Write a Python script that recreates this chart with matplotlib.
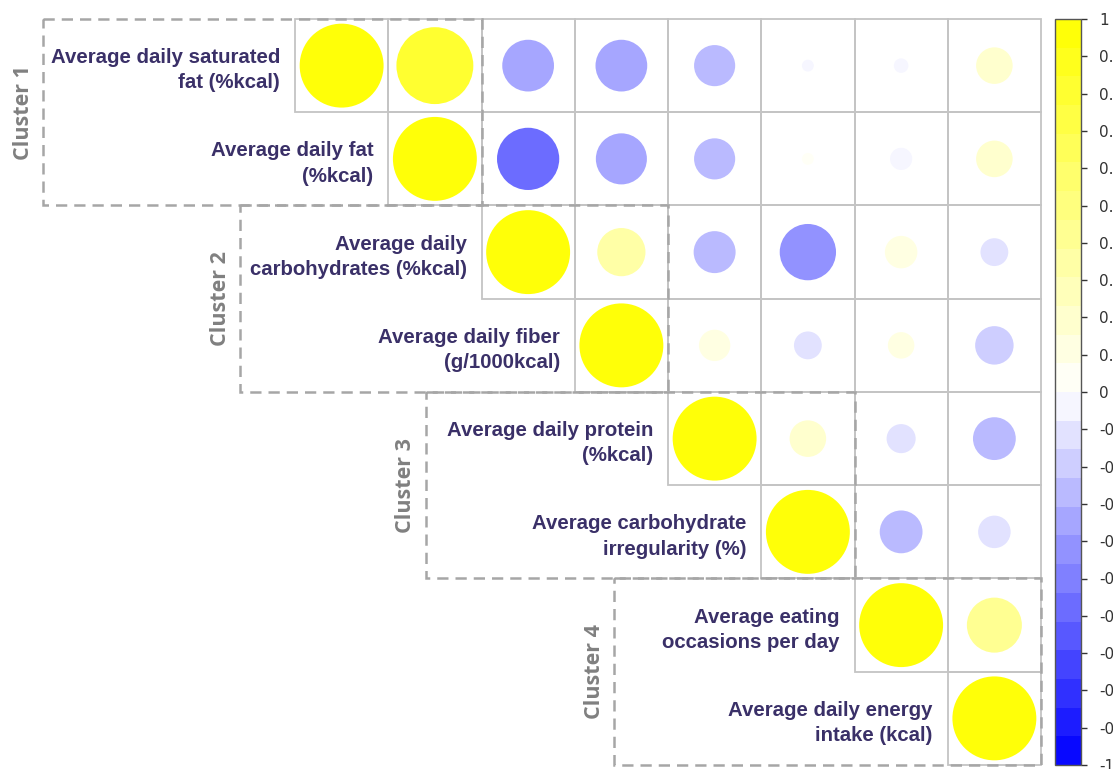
import numpy as np
import matplotlib
matplotlib.use('Agg')
import matplotlib.pyplot as plt
from matplotlib.patches import Circle, Rectangle
from matplotlib.colors import LinearSegmentedColormap, ListedColormap, BoundaryNorm
from matplotlib.cm import ScalarMappable

# variable names, one per row/column of the matrix
labels = [
    "Average daily saturated\nfat (%kcal)",
    "Average daily fat\n(%kcal)",
    "Average daily\ncarbohydrates (%kcal)",
    "Average daily fiber\n(g/1000kcal)",
    "Average daily protein\n(%kcal)",
    "Average carbohydrate\nirregularity (%)",
    "Average eating\noccasions per day",
    "Average daily energy\nintake (kcal)",
]

# upper triangle of the correlation matrix, row by row (diagonal first)
row_sat_fat = [1.00, 0.84, -0.38, -0.38, -0.24, -0.02, -0.03, 0.19]
row_fat = [1.00, -0.55, -0.37, -0.24, 0.02, -0.07, 0.19]
row_carbs = [1.00, 0.33, -0.25, -0.45, 0.15, -0.11]
row_fiber = [1.00, 0.14, -0.11, 0.10, -0.21]
row_protein = [1.00, 0.19, -0.12, -0.26]
row_irregularity = [1.00, -0.26, -0.15]
row_occasions = [1.00, 0.43]
row_energy = [1.00]
rows = [row_sat_fat, row_fat, row_carbs, row_fiber, row_protein,
        row_irregularity, row_occasions, row_energy]

cluster_names = ["Cluster 1", "Cluster 2", "Cluster 3", "Cluster 4"]
cluster_rows = [(0, 2), (2, 4), (4, 6), (6, 8)]
cluster_left = [-2.70, -0.59, 1.40, 3.42]

n = len(labels)
text_col = '#3a3068'
grid_col = '#c4c4c4'
dash_col = '#a6a6a6'

# blue - white - yellow, cut into bands
base = LinearSegmentedColormap.from_list('by', ['#0000ff', '#ffffff', '#ffff00'])
nb = 26
cmap = ListedColormap(base((np.arange(nb) + 0.5) / nb))
bounds = np.linspace(-1, 1, nb + 1)
norm = BoundaryNorm(bounds, cmap.N)

W, H = 1113, 769
fig = plt.figure(figsize=(W / 100, H / 100), dpi=100)
cell = 93.25
x0, y0 = 295, 19
ax = fig.add_axes([0, 0, 1, 1])
ax.set_xlim(-x0 / cell, (W - x0) / cell)
ax.set_ylim((H - y0) / cell, -y0 / cell)
ax.axis('off')

for i, vals in enumerate(rows):
    for k, r in enumerate(vals):
        j = i + k
        ax.add_patch(Rectangle((j, i), 1, 1, fill=False, ec=grid_col, lw=1.3, zorder=1))
        ax.add_patch(Circle((j + 0.5, i + 0.5), 0.45 * np.sqrt(abs(r)),
                            fc=cmap(norm(r)), ec='none', zorder=2))
    ax.text(i - 0.16, i + 0.55, labels[i], ha='right', va='center',
            fontsize=14.7, fontweight='bold', color=text_col,
            family='Liberation Sans', linespacing=1.42)

for name, (a, b), left in zip(cluster_names, cluster_rows, cluster_left):
    ax.add_patch(Rectangle((left, a), b - left, b - a, fill=False, ec=dash_col,
                           lw=1.8, ls=(0, (4.5, 2.8)), zorder=3))
    ax.text(left - 0.21, (a + b) / 2, name, rotation=90, ha='center', va='center',
            fontsize=15.5, fontweight='bold', color='#808080', family='Open Sans')

# colour legend on the right
cax = fig.add_axes([1055 / W, (H - 765) / H, 26 / W, 746 / H])
cb = fig.colorbar(ScalarMappable(norm=norm, cmap=cmap), cax=cax,
                  boundaries=bounds, ticks=np.linspace(-1, 1, 21))
cb.minorticks_off()
cb.ax.set_yticklabels(['%g' % round(t, 1) for t in np.linspace(-1, 1, 21)])
cb.ax.tick_params(length=4, width=1, pad=9, labelsize=11, colors='#333333')
cb.outline.set_edgecolor('#555555')
cb.outline.set_linewidth(1)

fig.savefig('out.png', dpi=100)
